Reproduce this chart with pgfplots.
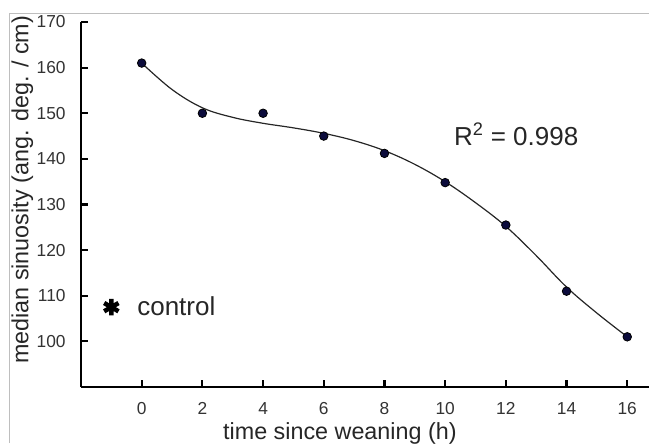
\documentclass[border=0pt]{standalone}
\usepackage{pgfplots}
\pgfplotsset{compat=1.18}
\usepackage{fontspec}
\setmainfont{Liberation Sans}
\definecolor{dotfill}{RGB}{12,12,60}
\definecolor{framegray}{RGB}{190,190,190}
\begin{document}
\begin{tikzpicture}
\useasboundingbox (-60.75pt,-42pt) rectangle (426pt,290.25pt);
\draw[framegray, line width=0.75pt] (-53.25pt,-42pt) -- (-53.25pt,279.75pt) -- (426pt,279.75pt);
\begin{axis}[
    at={(0pt,0pt)}, anchor=south west,
    scale only axis,
    width=426.75pt, height=273.75pt,
    xmin=-2, xmax=16.75, ymin=90, ymax=170,
    axis x line*=bottom, axis y line*=left,
    axis line style={line width=1.6pt, black},
    tick align=inside, major tick length=5pt,
    tick style={line width=1.6pt, black},
    xtick={0,2,...,16}, ytick={100,110,...,170},
    /pgf/number format/assume math mode=true,
    ticklabel style={font=\fontsize{13}{15}\selectfont, text=black!80},
    yticklabel style={xshift=-8pt},
    xticklabel style={yshift=-8pt},
    xlabel={time since weaning (h)},
    ylabel={median sinuosity (ang. deg. / cm)},
    label style={font=\fontsize{17.5}{20}\selectfont, text=black!85},
    xlabel style={at={(axis description cs:0.455,-0.128)}, anchor=center},
    ylabel style={at={(axis description cs:-0.103,0.54)}, anchor=center},
    clip=false,
]
% fitted curve
\addplot[black!85, line width=0.9pt, smooth, tension=0.6, no marks] coordinates {
    (0,161.0) (1,155.2) (2,151.2) (3,149.1) (4,147.8) (5,146.8) (6,145.6)
    (7,144.0) (8,141.8) (9,138.8) (10,135.0) (11,130.4) (12,125.2)
    (13,118.8) (14,111.9) (15,106.2) (16,101.0)
};
% measured medians
\addplot[only marks, mark=*, mark size=3.2pt,
    mark options={fill=dotfill, draw=black, line width=0.6pt}] coordinates {
    (0,161) (2,150) (4,150) (6,145) (8,141.2) (10,134.8) (12,125.5) (14,111) (16,101)
};
% control
\addplot[only marks, mark=asterisk, mark size=6.2pt,
    mark options={line width=3.4pt, black}] coordinates {(-1,107.5)};
\node[anchor=west, font=\fontsize{19.5}{22}\selectfont, text=black!85]
    at (axis cs:-0.3,107.7) {control};
\node[font=\fontsize{19.5}{22}\selectfont, text=black!85]
    at (axis cs:12.34,145.4) {R\textsuperscript{2} = 0.998};
\end{axis}
\end{tikzpicture}
\end{document}
